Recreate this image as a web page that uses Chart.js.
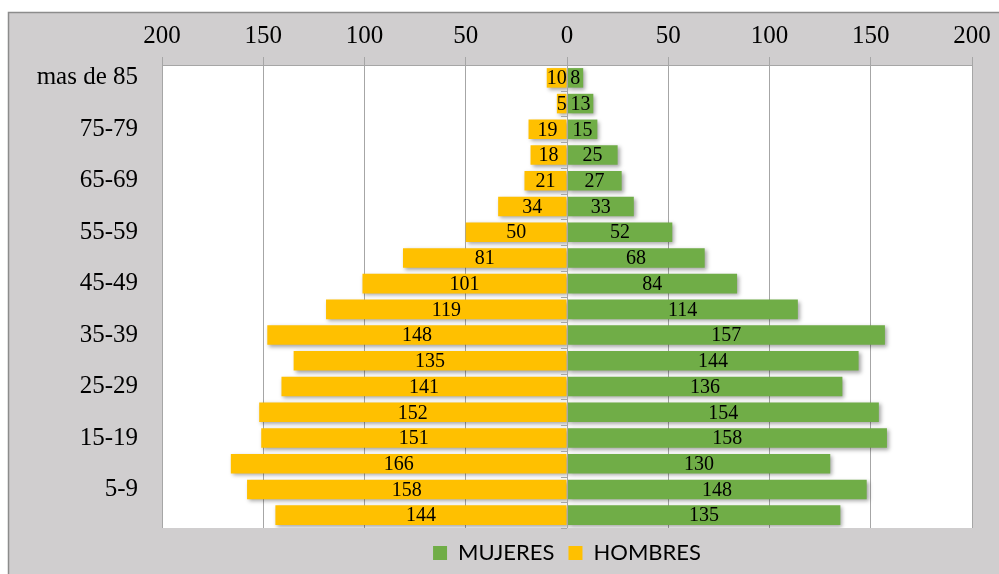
<!DOCTYPE html>
<html>
<head>
<meta charset="utf-8">
<script src="https://cdn.jsdelivr.net/npm/chart.js@4/dist/chart.umd.min.js"></script>
<style>
  html, body { margin: 0; padding: 0; background: #fff; }
  #wrap { width: 999px; height: 574px; position: relative; }
</style>
</head>
<body>
<div id="wrap"><canvas id="pyramid"></canvas></div>
<script>
// age groups, top to bottom
const ageGroups = ['mas de 85', '80-84', '75-79', '70-74', '65-69', '60-64', '55-59', '50-54', '45-49',
  '40-44', '35-39', '30-34', '25-29', '20-24', '15-19', '10-14', '5-9', '0-4'];
const mujeres = [8, 13, 15, 25, 27, 33, 52, 68, 84, 114, 157, 144, 136, 154, 158, 130, 148, 135];
const hombres = [10, 5, 19, 18, 21, 34, 50, 81, 101, 119, 148, 135, 141, 152, 151, 166, 158, 144];

const serif = '"Liberation Serif", "Times New Roman", serif';

// gray background, frame and white plot area
const frame = {
  id: 'frame',
  afterLayout(chart) {
    // legend is centred under the plot area, not the whole canvas
    chart.legend.left = chart.chartArea.left;
    chart.legend.right = chart.chartArea.right;
  },
  beforeDraw(chart) {
    const { ctx, chartArea: a } = chart;
    ctx.save();
    ctx.fillStyle = '#fff';
    ctx.fillRect(0, 0, chart.width, chart.height);
    ctx.fillStyle = '#D0CECF';
    ctx.fillRect(8, 12, chart.width - 8, chart.height - 12);
    ctx.strokeStyle = '#8c8c8c';
    ctx.lineWidth = 1.5;
    ctx.beginPath();
    ctx.moveTo(8.5, chart.height);
    ctx.lineTo(8.5, 12.5);
    ctx.lineTo(chart.width, 12.5);
    ctx.stroke();
    ctx.fillStyle = '#fff';
    ctx.fillRect(a.left, a.top, a.right - a.left, a.bottom - a.top);
    ctx.restore();
  },
  beforeDatasetsDraw(chart) {
    const ctx = chart.ctx;
    ctx.save();
    ctx.shadowColor = 'rgba(0,0,0,0.35)';
    ctx.shadowBlur = 4;
    ctx.shadowOffsetX = 2;
    ctx.shadowOffsetY = 2;
  },
  afterDatasetsDraw(chart) {
    const ctx = chart.ctx;
    ctx.restore();
    // small ticks on the zero line between categories
    const x0 = chart.scales.x.getPixelForValue(0);
    const ys = chart.scales.y;
    ctx.save();
    ctx.strokeStyle = '#a6a6a6';
    ctx.lineWidth = 1;
    ctx.beginPath();
    ctx.moveTo(x0 + 0.5, chart.chartArea.top);
    ctx.lineTo(x0 + 0.5, chart.chartArea.bottom);
    for (let i = 0; i <= ageGroups.length; i++) {
      const y = Math.round(ys.top + i * (ys.bottom - ys.top) / ageGroups.length) + 0.5;
      ctx.moveTo(x0 - 6, y);
      ctx.lineTo(x0, y);
    }
    ctx.stroke();
    // value labels
    ctx.fillStyle = '#000';
    ctx.font = '20px ' + serif;
    ctx.textAlign = 'center';
    ctx.textBaseline = 'middle';
    chart.data.datasets.forEach((ds, di) => {
      chart.getDatasetMeta(di).data.forEach((bar, i) => {
        const cx = (bar.x + bar.base) / 2;
        ctx.fillText(Math.abs(ds.data[i]), cx, bar.y + 1);
      });
    });
    ctx.restore();
  }
};

new Chart(document.getElementById('pyramid'), {
  type: 'bar',
  data: {
    labels: ageGroups,
    datasets: [
      { label: 'MUJERES', data: mujeres, backgroundColor: '#70AD47' },
      { label: 'HOMBRES', data: hombres.map(v => -v), backgroundColor: '#FFC000' }
    ]
  },
  options: {
    indexAxis: 'y',
    responsive: true,
    maintainAspectRatio: false,
    animation: false,
    layout: { padding: { left: 0, right: 27, top: 0, bottom: 0 } },
    datasets: { bar: { categoryPercentage: 0.76, barPercentage: 1 } },
    scales: {
      x: {
        position: 'top',
        stacked: true,
        min: -200,
        max: 200,
        afterFit(scale) { scale.height = 65; },
        ticks: {
          stepSize: 50,
          color: '#000',
          padding: 6,
          font: { family: serif, size: 25 },
          callback: v => Math.abs(v)
        },
        grid: { color: '#a6a6a6', tickLength: 8, tickColor: '#a6a6a6' },
        border: { color: '#a6a6a6' }
      },
      y: {
        stacked: true,
        afterFit(scale) { scale.width = 162; },
        ticks: {
          autoSkip: false,
          color: '#000',
          padding: 16,
          font: { family: serif, size: 25 },
          callback: (v, i) => (i % 2 === 0 ? ageGroups[i] : '')
        },
        grid: { display: false },
        border: { display: false }
      }
    },
    plugins: {
      legend: {
        position: 'bottom',
        labels: {
          color: '#000',
          boxWidth: 14,
          boxHeight: 14,
          padding: 14,
          font: { family: 'Lato, "Open Sans", sans-serif', size: 22 }
        }
      },
      tooltip: { enabled: false }
    }
  },
  plugins: [frame]
});
</script>
</body>
</html>
